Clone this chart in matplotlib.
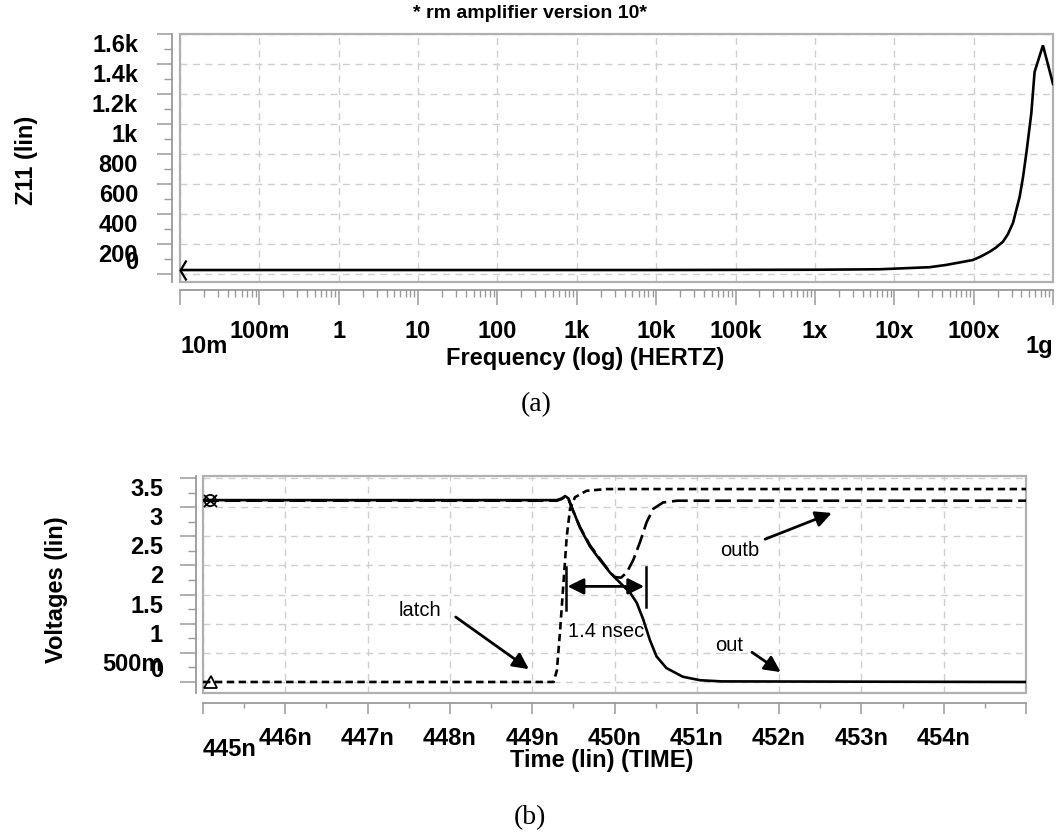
import numpy as np
import matplotlib
matplotlib.use('Agg')
import matplotlib.pyplot as plt
from matplotlib.path import Path
from matplotlib.patches import Rectangle
from matplotlib.markers import MarkerStyle
import matplotlib.transforms as mtrans
import matplotlib.ticker as mticker

plt.rcParams['font.family'] = ['Liberation Sans', 'DejaVu Sans']

# ---------------- data: (a) Z11 vs frequency ----------------
freq_hz = [1e-2, 1e-1, 1, 10, 100, 1e3, 1e4, 1e5, 1e6, 6.5e6, 2.8e7, 4.5e7,
           9.8e7, 1.25e8, 1.6e8, 1.9e8, 2.34e8, 2.7e8, 3.13e8, 3.8e8, 4.2e8,
           4.61e8, 5.33e8, 5.86e8, 7.47e8, 1e9]
z11_ohm = [26, 26, 26, 26, 26, 26, 26, 27, 28, 31, 45, 60,
           93, 118, 149, 175, 215, 265, 340, 515, 650,
           805, 1073, 1349, 1527, 1270]
freq_ticks = [1e-2, 1e-1, 1, 10, 100, 1e3, 1e4, 1e5, 1e6, 1e7, 1e8, 1e9]
freq_tick_labels = ['10m', '100m', '1', '10', '100', '1k', '10k', '100k',
                    '1x', '10x', '100x', '1g']
z_ticks = [0, 200, 400, 600, 800, 1000, 1200, 1400, 1600]
z_tick_labels = ['0', '200', '400', '600', '800', '1k', '1.2k', '1.4k', '1.6k']

# ---------------- data: (b) transient voltages ----------------
out_t = [445, 449.30, 449.36, 449.40, 449.44, 449.48, 449.58, 449.70, 449.82,
         449.95, 450.07, 450.19, 450.27, 450.35, 450.43, 450.51, 450.63,
         450.83, 451.04, 451.30, 455]
out_v = [3.12, 3.12, 3.15, 3.19, 3.15, 3.00, 2.65, 2.33, 2.10,
         1.87, 1.70, 1.53, 1.36, 1.07, 0.72, 0.44, 0.24,
         0.09, 0.03, 0.01, 0.0]
outb_t = [445, 449.30, 449.36, 449.40, 449.44, 449.48, 449.58, 449.70, 449.82,
          449.92, 450.00, 450.08, 450.15, 450.23, 450.31, 450.39, 450.47,
          450.59, 450.76, 451.00, 455]
outb_v = [3.11, 3.11, 3.14, 3.18, 3.14, 2.99, 2.66, 2.35, 2.12,
          1.93, 1.80, 1.79, 1.88, 2.10, 2.40, 2.74, 2.97,
          3.08, 3.11, 3.11, 3.11]
latch_t = [445, 449.26, 449.30, 449.34, 449.38, 449.42, 449.46, 449.52,
           449.66, 449.90, 455]
latch_v = [0.0, 0.0, 0.2, 0.9, 1.7, 2.5, 2.97, 3.17, 3.28, 3.31, 3.31]
time_ticks = [445, 446, 447, 448, 449, 450, 451, 452, 453, 454, 455]
time_tick_labels = ['445n', '446n', '447n', '448n', '449n', '450n', '451n',
                    '452n', '453n', '454n', '']
v_ticks = [0, 0.5, 1, 1.5, 2, 2.5, 3, 3.5]
v_tick_labels = ['0', '500m', '1', '1.5', '2', '2.5', '3', '3.5']

# annotation anchors (data units)
delay_start, delay_end = 449.41, 450.38

# ---------------- figure ----------------
W, H = 1058, 834
fig = plt.figure(figsize=(W / 100, H / 100), dpi=100)
PX = 0.72  # points per pixel
GRAY = '#9a9a9a'
FRAME = '#b0b0b0'
GRID = '#cfcfcf'
TICKFS = 17
BOLD = 'bold'


def style_axes(ax, left_out, bottom_out, xmaj, xmin, ymaj, ymin):
    for s in ('top', 'right'):
        ax.spines[s].set_visible(False)
    ax.spines['left'].set_position(('outward', left_out * PX))
    ax.spines['bottom'].set_position(('outward', bottom_out * PX))
    for s in ('left', 'bottom'):
        ax.spines[s].set_color(GRAY)
        ax.spines[s].set_linewidth(1.3)
    ax.tick_params(axis='x', which='major', length=xmaj * PX, width=1.1,
                   color=GRAY, direction='out', labelbottom=False)
    ax.tick_params(axis='x', which='minor', length=xmin * PX, width=1.0,
                   color=GRAY, direction='out', labelbottom=False)
    ax.tick_params(axis='y', which='major', length=ymaj * PX, width=1.1,
                   color=GRAY, direction='out', labelleft=False)
    ax.tick_params(axis='y', which='minor', length=ymin * PX, width=1.0,
                   color=GRAY, direction='out', labelleft=False)
    ax.grid(which='major', ls=(0, (5, 4)), color=GRID, lw=1.0)
    ax.set_axisbelow(True)
    ax.add_patch(Rectangle((0, 0), 1, 1, transform=ax.transAxes, fill=False,
                           ec=FRAME, lw=1.6, clip_on=False, zorder=2.5))


def xlabels(ax, ticks, labels, top_px, low_px, lowered, ha_map):
    for i, (v, lab) in enumerate(zip(ticks, labels)):
        off = low_px if i in lowered else top_px
        ax.annotate(lab, xy=(v, 0), xycoords=('data', 'axes fraction'),
                    xytext=(0, -off * PX), textcoords='offset points',
                    ha=ha_map.get(i, 'center'), va='top',
                    fontsize=TICKFS, fontweight=BOLD, annotation_clip=False)


def ylabels(ax, ticks, labels, left_px):
    for i, (v, lab) in enumerate(zip(ticks, labels)):
        ax.annotate(lab, xy=(0, v), xycoords=('axes fraction', 'data'),
                    xytext=(-left_px * PX, 0), textcoords='offset points',
                    ha='right', va='bottom' if i == 0 else 'top',
                    fontsize=TICKFS, fontweight=BOLD, annotation_clip=False)


# ---------------- (a) ----------------
ax1 = fig.add_axes([180 / W, 1 - 282 / H, 873 / W, 248 / H])
ax1.set_xscale('log')
ax1.set_xlim(freq_ticks[0], freq_ticks[-1])
ax1.set_ylim(-54, 1603)
ax1.set_xticks(freq_ticks)
ax1.xaxis.set_minor_locator(mticker.LogLocator(base=10, subs=np.arange(2, 10), numticks=50))
ax1.xaxis.set_minor_formatter(mticker.NullFormatter())
ax1.set_yticks(z_ticks)
ax1.yaxis.set_minor_locator(mticker.MultipleLocator(100))
style_axes(ax1, 8, 8, 15, 7, 15, 8)

ax1.plot(freq_hz, z11_ohm, color='black', lw=1.9, zorder=3, solid_joinstyle='miter')
open_arrow = Path([(0.6, 1.0), (0.0, 0.0), (0.6, -1.0)],
                  [Path.MOVETO, Path.LINETO, Path.LINETO])
ax1.plot(freq_hz[:1], z11_ohm[:1], ls='none', marker=open_arrow, ms=20 * PX,
         mfc='none', mec='black', mew=1.6, clip_on=False, zorder=4)

xlabels(ax1, freq_ticks, freq_tick_labels, 38, 53, {0, len(freq_ticks) - 1},
        {0: 'left', len(freq_ticks) - 1: 'right'})
ylabels(ax1, z_ticks, z_tick_labels, 42)

fig.text(647 / W, 1 - 14 / H, '* rm amplifier version 10*', ha='right', va='center',
         fontsize=14, fontweight=BOLD)
fig.text(27 / W, 1 - 160 / H, 'Z11 (lin)', rotation=90, ha='center', va='center',
         fontsize=TICKFS, fontweight=BOLD)
fig.text(585 / W, 1 - 358 / H, 'Frequency (log) (HERTZ)', ha='center', va='center',
         fontsize=TICKFS, fontweight=BOLD)
fig.text(536 / W, 1 - 405 / H, '(a)', ha='center', va='center', fontsize=20,
         family=['Liberation Serif', 'DejaVu Serif'])

# ---------------- (b) ----------------
ax2 = fig.add_axes([203 / W, 1 - 693 / H, 823 / W, 217 / H])
ax2.set_xlim(time_ticks[0], time_ticks[-1])
ax2.set_ylim(-0.189, 3.534)
ax2.set_xticks(time_ticks)
ax2.xaxis.set_minor_locator(mticker.MultipleLocator(0.5))
ax2.set_yticks(v_ticks)
ax2.yaxis.set_minor_locator(mticker.MultipleLocator(0.25))
style_axes(ax2, 7, 10, 11, 5, 16, 8)

lw = 1.9
ax2.plot(latch_t, latch_v, color='black', lw=lw, ls=(0, (2.8, 1.7)), zorder=3)
ax2.plot(outb_t, outb_v, color='black', lw=lw, ls=(0, (6.0, 2.2)), zorder=3)
ax2.plot(out_t, out_v, color='black', lw=lw, zorder=3)

shift = mtrans.Affine2D().translate(0.6, 0)
ax2.plot(latch_t[:1], latch_v[:1], ls='none', marker=MarkerStyle('^', transform=shift),
         ms=9 * PX * 1.4, mfc='none', mec='black', mew=1.3, clip_on=False, zorder=4)
ax2.plot(outb_t[:1], outb_v[:1], ls='none', marker=MarkerStyle('x', transform=shift),
         ms=9 * PX * 1.4, mec='black', mew=1.3, clip_on=False, zorder=4)
ax2.plot(out_t[:1], out_v[:1], ls='none', marker=MarkerStyle('o', transform=shift),
         ms=8 * PX * 1.4, mfc='none', mec='black', mew=1.3, clip_on=False, zorder=4)

xlabels(ax2, time_ticks, time_tick_labels, 34, 45, {0}, {0: 'left'})
ylabels(ax2, v_ticks, v_tick_labels, 40)

fig.text(57 / W, 1 - 590 / H, 'Voltages (lin)', rotation=90, ha='center', va='center',
         fontsize=TICKFS, fontweight=BOLD)
fig.text(602 / W, 1 - 760 / H, 'Time (lin) (TIME)', ha='center', va='center',
         fontsize=TICKFS, fontweight=BOLD)
fig.text(530 / W, 1 - 818 / H, '(b)', ha='center', va='center', fontsize=20,
         family=['Liberation Serif', 'DejaVu Serif'])

# annotations
arrow_kw = dict(arrowstyle='-|>', color='black', lw=2.0, mutation_scale=24,
                shrinkA=0, shrinkB=0)
ANNFS = 14.5
ax2.text(447.64, 1.235, 'latch', ha='center', va='center', fontsize=ANNFS)
ax2.annotate('', xy=(448.96, 0.22), xytext=(448.07, 1.115), arrowprops=arrow_kw)
ax2.text(451.52, 2.25, 'outb', ha='center', va='center', fontsize=ANNFS)
ax2.annotate('', xy=(452.64, 2.90), xytext=(451.83, 2.45), arrowprops=arrow_kw)
ax2.text(451.39, 0.62, 'out', ha='center', va='center', fontsize=ANNFS)
ax2.annotate('', xy=(452.02, 0.17), xytext=(451.67, 0.51), arrowprops=arrow_kw)

ax2.annotate('', xy=(delay_end - 0.02, 1.64), xytext=(delay_start + 0.02, 1.64),
             arrowprops=dict(arrowstyle='<|-|>', color='black', lw=2.0,
                             mutation_scale=24, shrinkA=0, shrinkB=0))
ax2.plot([delay_start, delay_start], [1.24, 1.98], color='black', lw=1.8)
ax2.plot([delay_end, delay_end], [1.29, 1.98], color='black', lw=1.8)
ax2.text(delay_start + 0.03, 0.86, '1.4 nsec', ha='left', va='center', fontsize=ANNFS)

fig.savefig('out.png', dpi=100)
